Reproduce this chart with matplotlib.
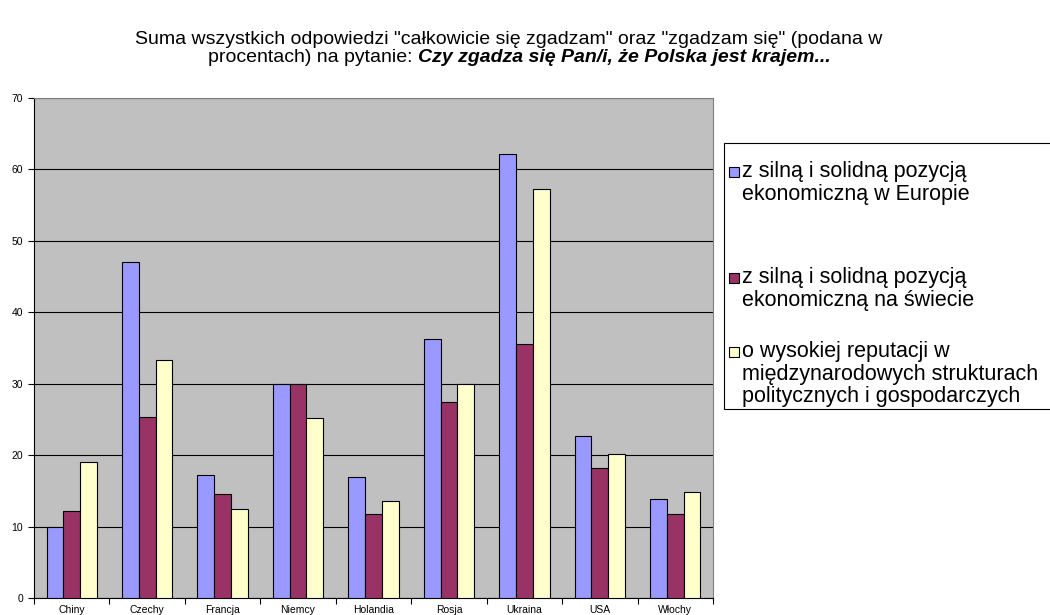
import matplotlib
matplotlib.use("Agg")
import numpy as np
import matplotlib.pyplot as plt
from matplotlib.patches import Rectangle

plt.rcParams['font.family'] = ['Liberation Sans', 'DejaVu Sans']

kraje = ["Chiny", "Czechy", "Francja", "Niemcy", "Holandia", "Rosja", "Ukraina", "USA", "Włochy"]
europa = [10.0, 47.0, 17.2, 30.0, 17.0, 36.2, 62.1, 22.7, 13.9]
swiat = [12.2, 25.4, 14.5, 30.0, 11.7, 27.4, 35.6, 18.2, 11.7]
reputacja = [19.1, 33.3, 12.5, 25.2, 13.6, 29.9, 57.3, 20.2, 14.9]

etykiety = ["z silną i solidną pozycją\nekonomiczną w Europie",
            "z silną i solidną pozycją\nekonomiczną na świecie",
            "o wysokiej reputacji w\nmiędzynarodowych strukturach\npolitycznych i gospodarczych"]
kolory = ["#9999FF", "#993366", "#FFFFCC"]

W, H = 1050, 615
fig = plt.figure(figsize=(W / 100, H / 100), dpi=100)
ax = fig.add_axes([34 / W, 17 / H, (713 - 34) / W, (598 - 98) / H])
ax.set_facecolor("#C0C0C0")

x = np.arange(len(kraje))
szer = 0.222
for i, (wart, kol) in enumerate(zip([europa, swiat, reputacja], kolory)):
    ax.bar(x + (i - 1) * szer, wart, szer, color=kol, edgecolor="black", linewidth=0.8, zorder=3)

ax.set_xlim(-0.5, len(kraje) - 0.5)
ax.set_ylim(0, 70)
ax.set_yticks(range(0, 71, 10))
ax.yaxis.grid(True, color="black", linewidth=0.8, zorder=1)
ax.set_axisbelow(True)

ax.set_xticks(x)
ax.set_xticklabels(kraje, fontsize=7.5)
ax.set_xticks(np.arange(-0.5, len(kraje)), minor=True)
ax.tick_params(axis="x", which="major", length=0, pad=5)
ax.tick_params(axis="x", which="minor", length=4, width=0.8)
ax.tick_params(axis="y", labelsize=7.5, length=4, width=0.8, pad=4)

for s in ["top", "right"]:
    ax.spines[s].set_color("#808080")
for s in ["left", "bottom"]:
    ax.spines[s].set_color("black")

# tytuł: pierwsza linia zwykła, druga z pogrubioną kursywą
fs_t = 14
fig.text(509 / W, 1 - 39 / H, 'Suma wszystkich odpowiedzi "całkowicie się zgadzam" oraz "zgadzam się" (podana w',
         ha="center", va="center", fontsize=fs_t)
t1 = fig.text(0, 1 - 58 / H, "procentach) na pytanie: ", ha="left", va="center", fontsize=fs_t)
t2 = fig.text(0, 1 - 58 / H, "Czy zgadza się Pan/i, że Polska jest krajem...", ha="left", va="center",
              fontsize=fs_t, fontweight="bold", fontstyle="italic")
fig.canvas.draw()
r = fig.canvas.get_renderer()
w1 = t1.get_window_extent(r).width
w2 = t2.get_window_extent(r).width
x0 = 519 - (w1 + w2) / 2
t1.set_x(x0 / W)
t2.set_x((x0 + w1) / W)

# legenda rysowana ręcznie
fig.patches.append(Rectangle((724 / W, 1 - 409 / H), 340 / W, 266 / H, transform=fig.transFigure,
                             facecolor="white", edgecolor="black", linewidth=0.8))
fs_l = 15.5
wiersze = [172, 278, 352]
for lab, kol, yy in zip(etykiety, kolory, wiersze):
    fig.patches.append(Rectangle((729 / W, 1 - (yy + 5) / H), 10 / W, 10 / H, transform=fig.transFigure,
                                 facecolor=kol, edgecolor="black", linewidth=0.8))
    fig.text(742 / W, 1 - (yy - 11) / H, lab, ha="left", va="top", fontsize=fs_l, linespacing=1.1)

fig.savefig("out.png", dpi=100)
